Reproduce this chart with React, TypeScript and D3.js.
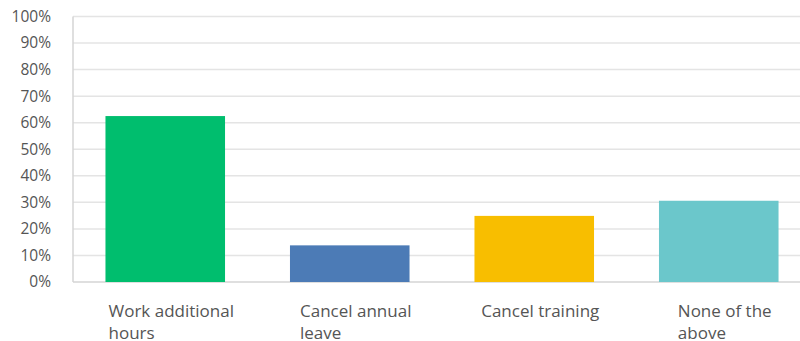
import React, { useEffect, useRef } from "react";
import * as d3 from "d3";

const categories = ["Work additional|hours", "Cancel annual|leave", "Cancel training", "None of the|above"];
const values = [62.5, 13.8, 24.9, 30.6];
const colors = ["#00BE6E", "#4C7BB6", "#F8BE00", "#6BC7CB"];
const yTicks = [0, 10, 20, 30, 40, 50, 60, 70, 80, 90, 100];

const W = 800;
const H = 341;
const FONT = "'Open Sans', sans-serif";

export default function App() {
  const ref = useRef<SVGSVGElement | null>(null);
  useEffect(() => {
    const svg = d3.select(ref.current);
    svg.selectAll("*").remove();
    const left = 73, right = 811, top = 16.5, bottom = 282;
    const x = d3.scaleBand().domain(categories).range([left, right]).paddingInner(0.352).paddingOuter(0.176);
    const y = d3.scaleLinear().domain([0, 100]).range([bottom, top]);

    const g = svg.append("g");
    g.selectAll("line.grid").data(yTicks.filter((t) => t > 0)).join("line")
      .attr("x1", left).attr("x2", W).attr("y1", (d) => y(d)).attr("y2", (d) => y(d))
      .attr("stroke", "#E4E4E4").attr("stroke-width", 1.5);
    g.append("line").attr("x1", left).attr("x2", W).attr("y1", bottom).attr("y2", bottom)
      .attr("stroke", "#D4D4D4").attr("stroke-width", 1.5);
    g.append("line").attr("x1", left).attr("x2", left).attr("y1", top).attr("y2", bottom)
      .attr("stroke", "#D4D4D4").attr("stroke-width", 1.5);

    g.selectAll("text.ytick").data(yTicks).join("text")
      .attr("x", 51).attr("y", (d) => y(d)).attr("dy", "0.35em")
      .attr("text-anchor", "end").attr("font-family", FONT).attr("font-size", 15.5)
      .attr("fill", "#555555").text((d) => `${d}%`);

    g.selectAll("rect.bar").data(categories).join("rect")
      .attr("x", (d) => x(d)!).attr("width", x.bandwidth())
      .attr("y", (_, i) => y(values[i])).attr("height", (_, i) => bottom - y(values[i]))
      .attr("fill", (_, i) => colors[i]);

    categories.forEach((c, i) => {
      const lines = c.split("|");
      const t = g.append("text").attr("font-family", FONT).attr("font-size", 17).attr("fill", "#555555");
      lines.forEach((ln, j) => {
        t.append("tspan").attr("y", 317 + j * 22).text(ln);
      });
      const nodes = t.selectAll<SVGTSpanElement, unknown>("tspan").nodes();
      const wmax = d3.max(nodes, (n) => n.getComputedTextLength()) || 0;
      const cx = x(c)! + x.bandwidth() / 2 + 6;
      t.selectAll("tspan").attr("x", cx - wmax / 2);
    });
  }, []);
  return <svg ref={ref} width={W} height={H} style={{ position: "absolute", left: 0, top: 0 }} />;
}
